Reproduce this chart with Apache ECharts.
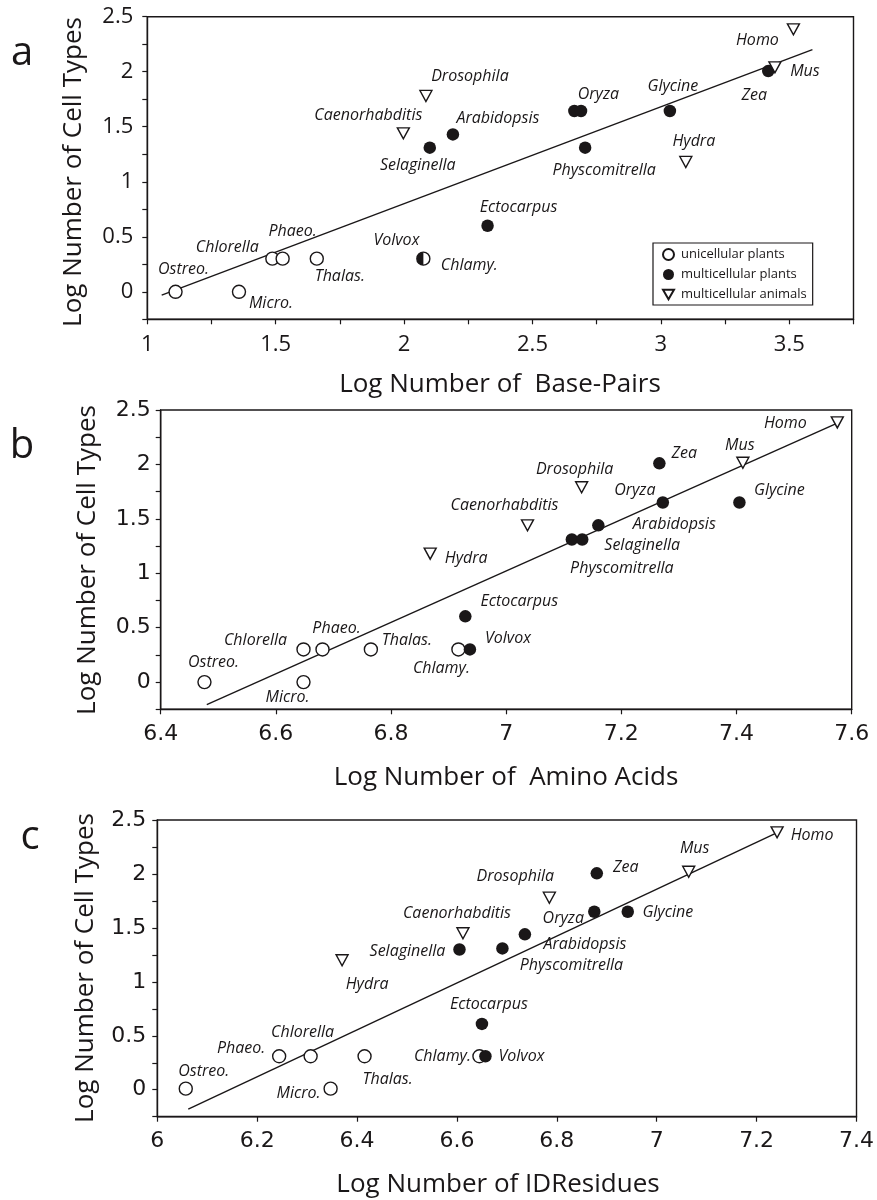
<!DOCTYPE html>
<html>
<head>
<meta charset="utf-8">
<script src="https://cdn.jsdelivr.net/npm/echarts@6/dist/echarts.min.js"></script>
<style>html,body{margin:0;padding:0;background:#fff}#c{width:877px;height:1200px}</style>
</head>
<body>
<div id="c"></div>
<script>
// ---------- DATA ----------
// group: 0 = unicellular plants, 1 = multicellular plants, 2 = multicellular animals
const seriesNames = ['unicellular plants', 'multicellular plants', 'multicellular animals'];

// Panel a : Log Number of Base-Pairs
const namesA = ['Ostreo.','Micro.','Chlorella','Phaeo.','Thalas.','Chlamy.','Volvox','Selaginella','Arabidopsis','Ectocarpus','Oryza','Oryza','Physcomitrella','Glycine','Zea','Caenorhabditis','Drosophila','Hydra','Mus','Homo'];
const xA = [1.11,1.357,1.487,1.527,1.66,2.075,2.075,2.10,2.19,2.325,2.663,2.689,2.705,3.035,3.418,1.997,2.085,3.097,3.444,3.516];
const yA = [0,0,0.301,0.301,0.301,0.301,0.301,1.31,1.43,0.60,1.643,1.643,1.31,1.643,2.006,1.44,1.78,1.18,2.04,2.385];
const groupA = [0,0,0,0,0,0,1,1,1,1,1,1,1,1,1,2,2,2,2,2];
const fitA = [[1.056,-0.03],[3.59,2.20]];

// Panel b : Log Number of Amino Acids
const namesB = ['Ostreo.','Micro.','Chlorella','Phaeo.','Thalas.','Chlamy.','Volvox','Ectocarpus','Physcomitrella','Selaginella','Arabidopsis','Zea','Oryza','Glycine','Hydra','Caenorhabditis','Drosophila','Mus','Homo'];
const xB = [6.476,6.648,6.648,6.681,6.765,6.917,6.937,6.929,7.114,7.132,7.16,7.266,7.272,7.405,6.868,7.037,7.131,7.411,7.575];
const yB = [0,0,0.30,0.30,0.30,0.30,0.30,0.604,1.31,1.31,1.44,2.01,1.65,1.65,1.18,1.44,1.79,2.015,2.386];
const groupB = [0,0,0,0,0,0,1,1,1,1,1,1,1,1,2,2,2,2,2];
const fitB = [[6.48,-0.208],[7.577,2.385]];

// Panel c : Log Number of IDResidues
const namesC = ['Ostreo.','Micro.','Phaeo.','Chlorella','Thalas.','Chlamy.','Volvox','Ectocarpus','Selaginella','Physcomitrella','Arabidopsis','Oryza','Zea','Glycine','Hydra','Caenorhabditis','Drosophila','Mus','Homo'];
const xC = [6.057,6.347,6.244,6.307,6.415,6.645,6.657,6.650,6.605,6.691,6.736,6.875,6.880,6.942,6.37,6.612,6.785,7.064,7.241];
const yC = [0.01,0.01,0.31,0.31,0.31,0.31,0.31,0.61,1.30,1.31,1.44,1.65,2.006,1.65,1.20,1.45,1.78,2.02,2.386];
const groupC = [0,0,0,0,0,0,1,1,1,1,1,1,1,1,2,2,2,2,2];
const fitC = [[6.062,-0.179],[7.238,2.377]];

// Tick labels
const xTicksA = [1,1.5,2,2.5,3,3.5];
const xTicksB = [6.4,6.6,6.8,7,7.2,7.4,7.6];
const xTicksC = [6,6.2,6.4,6.6,6.8,7,7.2,7.4];
const yTicks = [0,0.5,1,1.5,2,2.5];

// ---------- LABEL PLACEMENT (pixel offsets from marker centre) ----------
const offA = {'Ostreo.':[8,-22],'Micro.':[32,12],'Chlorella':[-45,-11],'Phaeo.':[10,-27],'Thalas.':[23,18],'Chlamy.':[46,7],'Volvox':[-27,-18],
  'Selaginella':[-12,18],'Arabidopsis':[45,-16],'Ectocarpus':[31,-18],'Oryza':[24,-17],'Physcomitrella':[19,23],'Glycine':[3,-25],'Zea':[-14,24],
  'Caenorhabditis':[-35,-18],'Drosophila':[44,-19],'Hydra':[8,-21],'Mus':[30,4],'Homo':[-36,11]};
const offB = {'Ostreo.':[9,-20],'Micro.':[-16,15],'Chlorella':[-48,-9],'Phaeo.':[14,-21],'Thalas.':[36,-9],'Chlamy.':[-17,19],'Volvox':[38,-11],
  'Ectocarpus':[54,-15],'Physcomitrella':[50,29],'Selaginella':[60,6],'Arabidopsis':[76,-1],'Zea':[25,-10],'Oryza':[-28,-12],'Glycine':[40,-12],
  'Hydra':[36,5],'Caenorhabditis':[-23,-20],'Drosophila':[-7,-18],'Mus':[-3,-17],'Homo':[-52,1]};
const offC = {'Ostreo.':[18,-17],'Micro.':[-32,5],'Phaeo.':[-38,-8],'Chlorella':[-8,-24],'Thalas.':[23,23],'Chlamy.':[-37,0],'Volvox':[36,0],
  'Ectocarpus':[7,-19],'Selaginella':[-52,2],'Physcomitrella':[69,17],'Arabidopsis':[60,10],'Oryza':[-31,7],'Zea':[29,-6],'Glycine':[40,1],
  'Hydra':[25,24],'Caenorhabditis':[-6,-20],'Drosophila':[-34,-21],'Mus':[6,-23],'Homo':[35,3]};

// ---------- BUILD ----------
const INK = '#1a1718';
const triDown = 'path://M0,0 L10,0 L5,8.8 Z';
const halfLeft = 'path://M10,0 A10,10 0 0,0 10,20 Z';
const symbolDefs = [
  {symbol:'circle', size:13, style:{color:'#fff', borderColor:INK, borderWidth:1.4, opacity:1}},
  {symbol:'circle', size:12.5, style:{color:INK, borderColor:INK, borderWidth:0, opacity:1}},
  {symbol:triDown, size:[12,11], style:{color:'#fff', borderColor:INK, borderWidth:1.4, opacity:1}}
];
const labelFont = {fontFamily:'Open Sans', fontStyle:'italic', fontSize:16, color:INK};

function buildPanel(idx, names, xs, ys, groups, offs, halfVolvox) {
  const out = [];
  const labeled = {};
  for (let g = 0; g < 3; g++) {
    const data = [];
    for (let i = 0; i < names.length; i++) {
      if (groups[i] !== g) continue;
      const nm = names[i];
      const show = !labeled[nm];
      labeled[nm] = true;
      const o = offs[nm] || [0,0];
      const item = {name: nm, value: [xs[i], ys[i]],
        label: {show: show, position: 'inside', offset: o, formatter: '{b}', ...labelFont, textBorderWidth: 0, opacity: 1}};
      if (halfVolvox && nm === 'Volvox') {
        item.symbol = halfLeft; item.symbolSize = [6.5, 13]; item.symbolOffset = [-3.25, 0];
        item.label.offset = [o[0] + 3.25, o[1]];
      }
      data.push(item);
    }
    const d = symbolDefs[g];
    out.push({type:'scatter', name: seriesNames[g], xAxisIndex: idx, yAxisIndex: idx,
      symbol: d.symbol, symbolSize: d.size, itemStyle: d.style, data: data, z: 3 + g,
      emphasis: {disabled: true}});
  }
  return out;
}
function fitSeries(idx, pts) {
  return {type:'line', xAxisIndex: idx, yAxisIndex: idx, data: pts, symbol:'none',
    lineStyle:{color: INK, width: 1.4}, z: 2, silent: true};
}
function fmt(v) { return parseFloat(v.toFixed(3)); }
function xAxisCfg(idx, min, max, interval, ticks, font) {
  return {type:'value', gridIndex: idx, min: min, max: max, interval: interval,
    axisLine:{show:true, onZero:false, lineStyle:{color:INK, width:1.4}},
    axisTick:{show:true, length:5, lineStyle:{color:INK, width:1.2}},
    splitLine:{show:false},
    axisLabel:{margin: 14, color: INK, fontFamily: font, fontSize: 22, hideOverlap:false, showMinLabel:true, showMaxLabel:true,
      formatter: v => { const f = fmt(v); return ticks.some(t => Math.abs(t - f) < 1e-6) ? String(f) : ''; }}};
}
function yAxisCfg(idx, font, margin) {
  return {type:'value', gridIndex: idx, min: -0.25, max: 2.5, interval: 0.25,
    axisLine:{show:true, onZero:false, lineStyle:{color:INK, width:1.4}},
    axisTick:{show:true, length:5, lineStyle:{color:INK, width:1.2}},
    splitLine:{show:false},
    axisLabel:{margin: margin, color: INK, fontFamily: font, fontSize: 22, hideOverlap:false, showMinLabel:true, showMaxLabel:true,
      formatter: v => { const f = fmt(v); return yTicks.some(t => Math.abs(t - f) < 1e-6) ? String(f) : ''; }}};
}
function txt(x, y, s, size, rot) {
  return {type:'text', x: x, y: y, rotation: rot || 0,
    style:{text: s, fontFamily:'Open Sans', fontSize: size, fill: INK, align:'center', verticalAlign:'middle'}};
}

const option = {
  backgroundColor: '#fff',
  animation: false,
  grid: [
    {left: 147.3, top: 16.7, width: 706.2, height: 302.6, show:true, borderColor: INK, borderWidth: 1.4},
    {left: 160.7, top: 410, width: 691, height: 299.3, show:true, borderColor: INK, borderWidth: 1.4},
    {left: 157.3, top: 820, width: 703.7, height: 296.7, show:true, borderColor: INK, borderWidth: 1.4}
  ],
  xAxis: [
    xAxisCfg(0, 1, 3.75, 0.25, xTicksA, 'Open Sans'),
    xAxisCfg(1, 6.4, 7.6, 0.2, xTicksB, 'DejaVu Sans'),
    xAxisCfg(2, 6, 7.4, 0.2, xTicksC, 'DejaVu Sans')
  ],
  yAxis: [
    yAxisCfg(0, 'Open Sans', 14),
    yAxisCfg(1, 'DejaVu Sans', 10),
    yAxisCfg(2, 'DejaVu Sans', 11)
  ],
  legend: {
    show: true, orient: 'vertical', left: 653, top: 243,
    data: [
      {name: seriesNames[0], icon: 'circle'},
      {name: seriesNames[1], icon: 'circle'},
      {name: seriesNames[2], icon: 'path://M0,0 L10,0 L5,8.8 Z'}
    ],
    itemWidth: 11, itemHeight: 11, itemGap: 7, padding: [5, 6, 4, 9],
    borderColor: INK, borderWidth: 1.2, backgroundColor: '#fff',
    textStyle: {fontFamily: 'Open Sans', fontSize: 13, color: INK, padding: [0,0,0,2]},
    selectedMode: false
  },
  graphic: [
    txt(22, 54, 'a', 40), txt(22, 447, 'b', 40), txt(30, 838, 'c', 40),
    txt(500, 385, 'Log Number of  Base-Pairs', 26),
    txt(506, 778, 'Log Number of  Amino Acids', 26),
    txt(498, 1185, 'Log Number of IDResidues', 26),
    txt(74, 172, 'Log Number of Cell Types', 26, Math.PI/2),
    txt(88, 560, 'Log Number of Cell Types', 26, Math.PI/2),
    txt(86, 968, 'Log Number of Cell Types', 26, Math.PI/2)
  ],
  series: [].concat(
    [fitSeries(0, fitA)], buildPanel(0, namesA, xA, yA, groupA, offA, true),
    [fitSeries(1, fitB)], buildPanel(1, namesB, xB, yB, groupB, offB, false),
    [fitSeries(2, fitC)], buildPanel(2, namesC, xC, yC, groupC, offC, false)
  )
};
const chart = echarts.init(document.getElementById('c'), null, {renderer: 'canvas'});
chart.setOption(option);
</script>
</body>
</html>
